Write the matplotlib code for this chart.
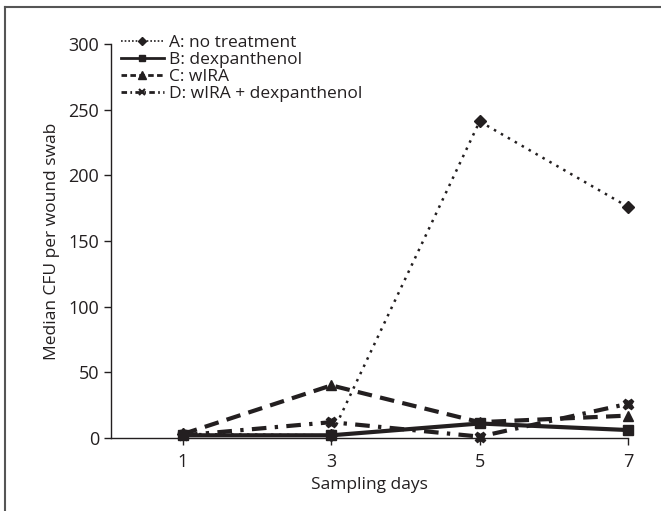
import matplotlib.pyplot as plt
from matplotlib.lines import Line2D

# datos
dias = [1, 3, 5, 7]
a_sin_tratamiento = [3, 2, 241, 176]
b_dexpantenol = [2, 2, 11, 6]
c_wira = [3, 40, 12, 17]
d_wira_dexpantenol = [2, 12, 1, 26]

etiquetas = ['A: no treatment', 'B: dexpanthenol', 'C: wIRA', 'D: wIRA + dexpanthenol']

plt.rcParams['font.family'] = ['Open Sans', 'DejaVu Sans']
color = '#231f20'

fig = plt.figure(figsize=(6.61, 5.11), dpi=100)
ax = fig.add_axes([0.168, 0.143, 0.782, 0.771])

ax.plot(dias, a_sin_tratamiento, color=color, linestyle=(0, (1, 2.2)), linewidth=1.8,
        marker='D', markersize=6.5, label=etiquetas[0], clip_on=False)
ax.plot(dias, b_dexpantenol, color=color, linestyle='-', linewidth=3.0,
        marker='s', markersize=6.5, label=etiquetas[1], clip_on=False)
ax.plot(dias, c_wira, color=color, linestyle=(0, (3.5, 2)), linewidth=3.0,
        marker='^', markersize=7.5, label=etiquetas[2], clip_on=False)
ax.plot(dias, d_wira_dexpantenol, color=color, linestyle=(0, (3.5, 2, 0.8, 2)), linewidth=3.0,
        marker='X', markersize=7.5, label=etiquetas[3], clip_on=False)

ax.set_xlim(0.03, 7)
ax.set_ylim(0, 300)
ax.set_xticks(dias)
ax.set_yticks([0, 50, 100, 150, 200, 250, 300])
ax.spines['top'].set_visible(False)
ax.spines['right'].set_visible(False)
for s in ['left', 'bottom']:
    ax.spines[s].set_color(color)
    ax.spines[s].set_linewidth(1.0)
ax.tick_params(axis='both', colors=color, labelsize=13, length=5, width=1.0)
ax.tick_params(axis='x', pad=6)

ax.set_xlabel('Sampling days', fontsize=12.5, color=color, labelpad=4)
ax.set_ylabel('Median CFU per wound swab', fontsize=12.5, color=color, labelpad=6)

# leyenda con lineas cortas
handles = [
    Line2D([], [], color=color, linestyle=(0, (1, 1.2)), linewidth=1.2, marker='D', markersize=4.5),
    Line2D([], [], color=color, linestyle='-', linewidth=2.0, marker='s', markersize=4.5),
    Line2D([], [], color=color, linestyle=(0, (2, 1.2)), linewidth=2.0, marker='^', markersize=5.5),
    Line2D([], [], color=color, linestyle=(0, (2, 1.2, 0.6, 1.2)), linewidth=2.0, marker='x', markersize=4.5, markeredgewidth=1.5),
]
ax.legend(handles, etiquetas, loc='upper left', bbox_to_anchor=(-0.005, 1.055), frameon=False,
          fontsize=12.5, handlelength=2.5, handletextpad=0.3, labelspacing=0.05,
          borderaxespad=0.3, labelcolor=color)

# marco de la figura (solo arriba e izquierda)
fig.add_artist(Line2D([0.008, 1.0], [0.986, 0.986], color='#555555', linewidth=1.5,
                      transform=fig.transFigure))
fig.add_artist(Line2D([0.008, 0.008], [0.0, 0.986], color='#555555', linewidth=1.5,
                      transform=fig.transFigure))

plt.savefig('out.png', dpi=100)
